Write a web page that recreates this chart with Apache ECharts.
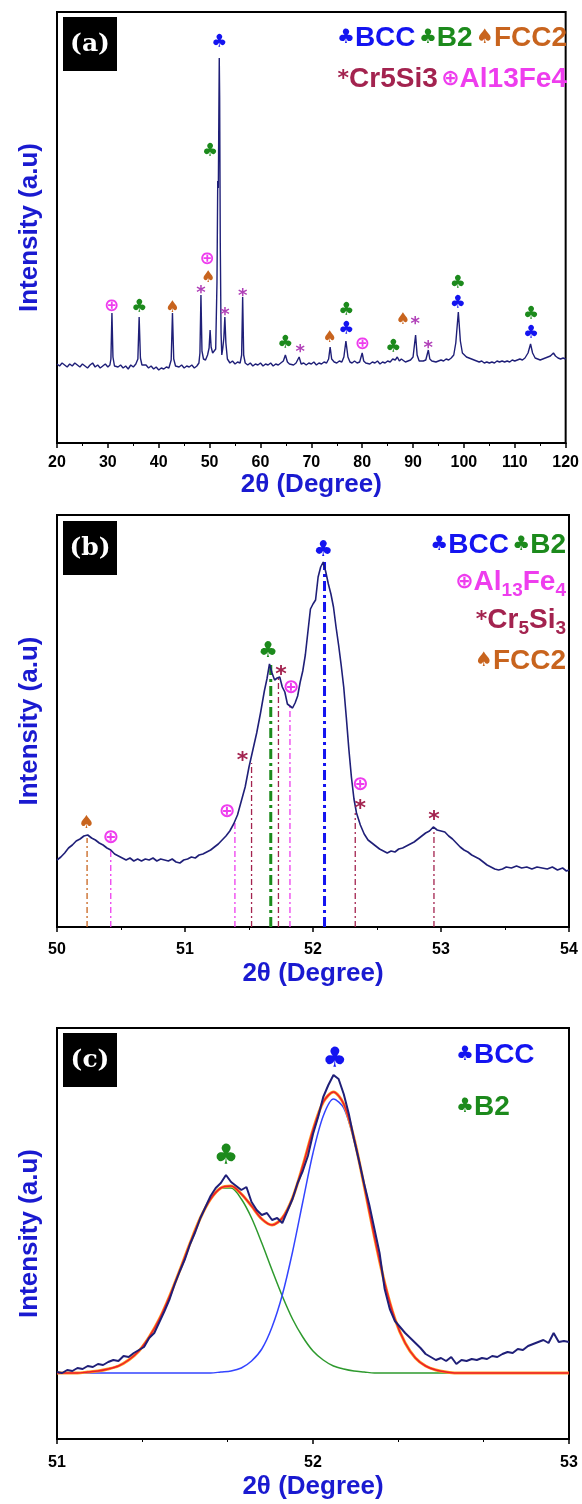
<!DOCTYPE html>
<html><head><meta charset="utf-8">
<script src="https://cdn.jsdelivr.net/npm/echarts@6/dist/echarts.min.js"></script>
<style>html,body{margin:0;padding:0;background:#fff}#c{width:582px;height:1504px}</style>
</head><body><div id="c"></div>
<script>
// ---------- Panel (a): full XRD scan, [2θ, intensity] ----------
const scanA = [[20,79],[20.5,77],[21,80],[21.5,78],[22,76],[22.5,79],[23,77],[23.5,80],[24,78],[24.5,76],[25,79],[25.5,77],[26,75],[26.5,78],[27,80],[27.5,76],[28,78],[28.5,75],[29,77],[29.5,79],[30,76],[30.4,78],
[30.6,84],[30.8,130],[31.0,86],[31.3,77],[31.5,79],[32,76],[32.5,78],[33,75],[33.5,77],[34,74],[34.5,78],[35,76],[35.5,79],[35.9,84],[36.15,126],[36.4,85],[36.7,78],[37,76],[37.5,78],[38,75],[38.5,77],[39,74],[39.5,76],[40,73],[40.5,75],[41,74],[41.5,76],[42,75],[42.45,83],[42.7,130],[42.95,84],[43.3,77],[43.5,79],[44,76],[44.5,78],[45,75],[45.5,77],[46,76],[46.5,78],[47,75],[47.5,77],[47.9,80],[48.1,90],[48.3,148],[48.5,92],[48.8,84],[49.2,83],[49.6,88],[49.9,95],[50.1,113],[50.3,96],[50.6,90],[50.9,88],[51.2,94],[51.45,160],[51.6,262],[51.72,255],[51.82,330],[51.9,385],[51.98,345],[52.1,200],[52.25,110],[52.4,88],[52.6,95],[52.8,105],[53.0,126],[53.2,100],[53.5,84],[54,80],[54.5,82],[55,79],[55.5,81],[56,80],[56.3,88],[56.5,146],[56.7,88],[57,80],[57.5,78],[58,80],[58.5,77],[59,79],[59.5,78],[60,80],[60.5,77],[61,79],[61.5,78],[62,80],[62.5,77],[63,79],[63.5,78],[64,80],[64.5,82],[64.9,88],[65.3,81],[65.7,79],[66,80],[66.5,78],[67,80],[67.6,86],[68,79],[68.5,80],[69,78],[69.5,80],[70,79],[70.5,81],[71,78],[71.5,80],[72,79],[72.5,81],[73,80],[73.4,84],[73.7,96],[74,84],[74.5,81],[75,80],[75.5,82],[76,81],[76.4,86],[76.8,102],[77.2,86],[77.6,81],[78,80],[78.5,82],[79,80],[79.5,81],[80,90],[80.3,82],[80.7,80],[81,82],[81.5,79],[82,81],[82.5,80],[83,82],[83.5,79],[84,81],[84.5,80],[85,82],[85.5,81],[86,84],[86.5,83],[86.9,86],[87.3,82],[87.7,84],[88,82],[88.5,81],[89,82],[89.5,83],[90,86],[90.5,108],[90.8,88],[91.2,82],[91.5,81],[92,82],[92.5,83],[93,93],[93.3,84],[93.7,82],[94,83],[94.5,81],[95,82],[95.5,83],[96,82],[96.5,84],[97,83],[97.5,85],[98,88],[98.4,100],[98.9,131],[99.3,102],[99.7,90],[100,88],[100.5,86],[101,85],[101.5,84],[102,83],[102.5,82],[103,81],[103.5,82],[104,80],[104.5,81],[105,80],[105.5,81],[106,80],[106.5,82],[107,81],[107.5,82],[108,81],[108.5,82],[109,81],[109.5,83],[110,82],[110.5,83],[111,84],[111.5,83],[112,85],[112.6,90],[113.1,99],[113.5,90],[114,85],[114.5,84],[115,83],[115.5,84],[116,85],[116.5,86],[117,87],[117.6,90],[118,87],[118.5,85],[119,84],[119.5,85],[120,84]];
const ticksA = [20,30,40,50,60,70,80,90,100,110,120];
const markA_BCC = [[51.9,401],[76.9,114],[98.8,140],[113.2,110]];
const markA_B2 = [[36.2,136],[50.1,292],[64.9,100],[76.9,133],[86.1,96],[98.8,160],[113.2,129]];
const markA_FCC2 = [[42.7,135],[49.7,165],[73.6,105],[88.0,123]];
const markA_Cr5Si3 = [[48.3,153],[53.0,131],[56.5,150],[67.8,94],[90.4,122],[93.0,98]];
const markA_Al13Fe4 = [[30.7,137],[49.5,184],[80.0,99]];

// ---------- Panel (b): zoom 50–54° ----------
const scanB = [[50.00,67],[50.03,70],[50.06,74],[50.09,79],[50.12,82],[50.15,86],[50.18,88],[50.21,91],[50.24,92],[50.27,89],[50.30,87],[50.33,84],[50.36,82],[50.39,79],[50.42,77],[50.45,73],[50.48,71],[50.51,69],[50.54,67],[50.57,69],[50.60,66],[50.63,68],[50.66,66],[50.69,68],[50.72,67],[50.75,69],[50.78,66],[50.81,68],[50.84,67],[50.87,66],[50.90,68],[50.93,65],[50.96,64],[50.99,67],[51.02,68],[51.05,70],[51.08,69],[51.11,72],[51.14,73],[51.17,75],[51.20,77],[51.23,80],[51.26,83],[51.29,87],[51.32,91],[51.35,96],[51.38,103],[51.41,112],[51.44,126],[51.47,140],[51.50,160],[51.53,177],[51.56,194],[51.59,214],[51.62,236],[51.64,248],[51.66,263],[51.68,254],[51.70,247],[51.72,249],[51.74,250],[51.76,240],[51.78,235],[51.80,223],[51.82,221],[51.84,219],[51.86,224],[51.88,231],[51.90,245],[51.92,256],[51.94,272],[51.96,295],[51.98,318],[52.00,323],[52.02,327],[52.04,350],[52.06,360],[52.08,365],[52.10,355],[52.12,343],[52.14,333],[52.16,320],[52.18,300],[52.20,282],[52.22,262],[52.24,240],[52.26,210],[52.28,178],[52.30,150],[52.32,128],[52.34,114],[52.37,102],[52.40,93],[52.43,87],[52.46,84],[52.49,81],[52.52,78],[52.55,76],[52.58,74],[52.61,76],[52.64,75],[52.67,78],[52.70,79],[52.73,81],[52.76,83],[52.79,85],[52.82,88],[52.85,91],[52.88,94],[52.91,96],[52.94,100],[52.97,97],[53.00,96],[53.03,95],[53.06,91],[53.09,88],[53.12,84],[53.15,80],[53.18,77],[53.21,75],[53.24,72],[53.27,70],[53.30,68],[53.33,65],[53.36,62],[53.39,60],[53.42,58],[53.45,57],[53.48,58],[53.51,60],[53.55,59],[53.59,61],[53.63,59],[53.67,60],[53.71,58],[53.75,60],[53.79,59],[53.83,58],[53.87,60],[53.91,57],[53.95,59],[53.98,56],[54.00,57]];
const ticksB = [50,51,52,53,54];
const markB_BCC = [[52.08,377]];
const markB_B2 = [[51.65,276]];
const markB_Al13Fe4 = [[50.42,89],[51.33,115],[51.83,239],[52.37,142]];
const markB_Cr5Si3 = [[51.45,170],[51.75,256],[52.37,122],[52.945,111]];
const markB_FCC2 = [[50.23,104]];
// drop lines: [2θ, top intensity]
const dropB_FCC2 = [[50.235,89]];
const dropB_Al13Fe4 = [[50.42,77],[51.39,104],[51.82,221]];
const dropB_Cr5Si3 = [[51.52,164],[51.73,252],[52.33,114],[52.945,99]];
const dropB_B2 = [[51.67,262]];
const dropB_BCC = [[52.09,365]];

// ---------- Panel (c): peak fit 51–53° ----------
const scanC = [[51.00,67],[51.02,66],[51.04,69],[51.06,68],[51.08,71],[51.10,70],[51.12,73],[51.14,72],[51.16,75],[51.18,74],[51.20,77],[51.22,79],[51.24,78],[51.26,83],[51.28,82],[51.30,86],[51.32,89],[51.34,92],[51.36,101],[51.38,106],[51.40,117],[51.42,128],[51.44,140],[51.46,155],[51.48,168],[51.50,180],[51.52,195],[51.54,207],[51.56,221],[51.58,232],[51.60,243],[51.62,251],[51.64,256],[51.66,264],[51.68,257],[51.70,253],[51.72,249],[51.74,252],[51.76,237],[51.78,229],[51.80,224],[51.82,226],[51.84,219],[51.86,221],[51.88,216],[51.90,228],[51.92,240],[51.94,256],[51.96,268],[51.98,283],[52.00,305],[52.02,322],[52.04,342],[52.06,354],[52.08,364],[52.10,360],[52.12,345],[52.14,325],[52.16,300],[52.18,278],[52.20,255],[52.22,234],[52.24,210],[52.26,186],[52.28,150],[52.30,130],[52.32,118],[52.34,112],[52.36,106],[52.38,101],[52.40,96],[52.42,91],[52.44,85],[52.46,82],[52.48,79],[52.50,81],[52.52,78],[52.54,82],[52.56,75],[52.58,79],[52.60,78],[52.62,80],[52.64,79],[52.66,81],[52.68,80],[52.70,83],[52.72,82],[52.74,85],[52.76,87],[52.78,86],[52.80,90],[52.82,89],[52.84,93],[52.86,95],[52.88,97],[52.90,99],[52.92,96],[52.94,106],[52.96,97],[52.98,98],[53.00,97]];
const fitX = [51.00,51.04,51.08,51.12,51.16,51.20,51.24,51.28,51.32,51.36,51.40,51.44,51.48,51.52,51.56,51.60,51.64,51.68,51.72,51.76,51.80,51.84,51.88,51.92,51.96,52.00,52.04,52.08,52.12,52.16,52.20,52.24,52.28,52.32,52.36,52.40,52.44,52.48,52.52,52.56,52.60,52.64,52.68,52.72,52.76,52.80,52.84,52.88,52.92,52.96,53.00];
const fitB2 = [66,66,66,67,68,70,73,79,88,102,120,143,169,196,221,240,251,251,240,221,196,169,143,120,102,88,79,73,70,68,67,66,66,66,66,66,66,66,66,66,66,66,66,66,66,66,66,66,66,66,66];
const fitBCC = [66,66,66,66,66,66,66,66,66,66,66,66,66,66,66,66,67,68,71,78,90,112,144,187,237,286,323,340,331,299,253,202,156,120,96,81,73,69,67,66,66,66,66,66,66,66,66,66,66,66,66];
const fitSum = [66,66,66,67,68,70,73,79,88,102,120,143,169,196,221,240,251,253,245,233,220,214,221,241,273,309,337,347,335,301,253,202,156,120,96,81,73,69,67,66,66,66,66,66,66,66,66,66,66,66,66];
const ticksC = [51,52,53];
const markC_BCC = [[52.085,379]];
const markC_B2 = [[51.66,282]];

// ---------- styling ----------
const COL = {BCC:'#1414f0', B2:'#1c8a1c', FCC2:'#c8641e', Cr:'#a3234f', CrA:'#b040b8', Al:'#ee3dee', navy:'#1f1f78', title:'#1a1ad0'};
const SYM = {club:'\u2663', spade:'\u2660', oplus:'\u2295', star:'*'};
const zip = (xs, ys) => xs.map((x, i) => [x, ys[i]]);

const chart = echarts.init(document.getElementById('c'), null, {renderer:'canvas'});

function glyphSeries(idx, data, glyph, color, size, dy) {
  return {type:'custom', xAxisIndex:idx, yAxisIndex:idx, data, z:10, silent:true,
    renderItem:(p, api) => {
      const c = api.coord([api.value(0), api.value(1)]);
      return {type:'text', x:c[0], y:c[1] + (dy||0), style:{text:glyph, fill:color, fontSize:size, fontFamily:'DejaVu Sans', fontWeight:'bold', align:'center', verticalAlign:'middle'}};
    }};
}
function dropSeries(idx, data, color, width, dash) {
  return {type:'custom', xAxisIndex:idx, yAxisIndex:idx, data, z:4, silent:true,
    renderItem:(p, api) => {
      const a = api.coord([api.value(0), 0]);
      const b = api.coord([api.value(0), api.value(1)]);
      return {type:'line', shape:{x1:a[0], y1:a[1], x2:b[0], y2:b[1]}, style:{stroke:color, lineWidth:width, lineDash:dash}};
    }};
}

const grids = [
  {left:57, right:13, top:12, height:431},
  {left:57, right:13, top:515, height:412},
  {left:57, right:13, top:1028, height:411}
].map(g => Object.assign(g, {show:true, borderColor:'#000', borderWidth:2, backgroundColor:'transparent'}));

function xAx(idx, min, max, interval, minorSplit, gap, margin) {
  return {gridIndex:idx, type:'value', min, max, interval,
    name:'2\u03b8 (Degree)', nameLocation:'middle', nameGap:gap,
    nameTextStyle:{color:COL.title, fontSize:26, fontWeight:'bold', fontFamily:'Liberation Sans'},
    axisLine:{show:true, onZero:false, lineStyle:{color:'#000', width:2}},
    axisTick:{show:true, length:5, lineStyle:{color:'#000', width:1.5}},
    minorTick:{show:true, splitNumber:minorSplit, length:3, lineStyle:{color:'#000', width:1}},
    splitLine:{show:false},
    axisLabel:{color:'#000', fontSize:16, fontWeight:'bold', fontFamily:'Liberation Sans', margin, showMinLabel:true, showMaxLabel:true}};
}
function yAx(idx, max) {
  return {gridIndex:idx, type:'value', min:0, max,
    name:'Intensity (a.u)', nameLocation:'middle', nameGap:14, nameRotate:90,
    nameTextStyle:{color:COL.title, fontSize:26, fontWeight:'bold', fontFamily:'Liberation Sans'},
    axisLine:{show:true, lineStyle:{color:'#000', width:2}},
    axisTick:{show:false}, axisLabel:{show:false}, splitLine:{show:false}};
}

function labelBox(txt, top) {
  return [{type:'rect', left:63, top, shape:{width:54, height:54}, style:{fill:'#000'}, z:20},
          {type:'text', x:90, y:top+27, z:21, style:{text:txt, fill:'#fff', fontSize:25, fontWeight:'bold', fontFamily:'DejaVu Serif', align:'center', verticalAlign:'middle'}}];
}
const base = (c) => ({fill:c, fontSize:28, fontWeight:'bold', fontFamily:'Liberation Sans', lineHeight:36, verticalAlign:'middle'});
const sym = (c, s) => ({fill:c, fontSize:s||20, fontWeight:'bold', fontFamily:'DejaVu Sans', lineHeight:36, verticalAlign:'middle'});
const sub = (c) => ({fill:c, fontSize:19, fontWeight:'bold', fontFamily:'Liberation Sans', verticalAlign:'bottom'});
const rich = {
  b:base(COL.BCC), bs:sym(COL.BCC), g:base(COL.B2), gs:sym(COL.B2), o:base(COL.FCC2), os:sym(COL.FCC2),
  m:base(COL.Cr), ms:sym(COL.Cr, 22), msub:sub(COL.Cr), p:base(COL.Al), ps:sym(COL.Al, 22), psub:sub(COL.Al)
};
function legendLine(text, x, y, align) {
  return {type:'text', x, y, z:15, style:{text, rich, align:align||'right', verticalAlign:'middle'}};
}

const graphic = [].concat(
  labelBox('(a)', 17), labelBox('(b)', 521), labelBox('(c)', 1033),
  [
    legendLine('{bs|\u2663}{b|BCC} {gs|\u2663}{g|B2} {os|\u2660}{o|FCC2}', 567, 38),
    legendLine('{ms|*}{m|Cr5Si3} {ps|\u2295}{p|Al13Fe4}', 567, 79),
    legendLine('{bs|\u2663}{b|BCC} {gs|\u2663}{g|B2}', 566, 545),
    legendLine('{ps|\u2295}{p|Al}{psub|13}{p|Fe}{psub|4}', 566, 582),
    legendLine('{ms|*}{m|Cr}{msub|5}{m|Si}{msub|3}', 566, 620),
    legendLine('{os|\u2660}{o|FCC2}', 566, 661),
    legendLine('{bs|\u2663}{b|BCC}', 456, 1055, 'left'),
    legendLine('{gs|\u2663}{g|B2}', 456, 1107, 'left')
  ]
);

const series = [
  // (a)
  {type:'line', xAxisIndex:0, yAxisIndex:0, data:scanA, showSymbol:false, lineStyle:{color:COL.navy, width:1.4}, z:3},
  glyphSeries(0, markA_BCC, SYM.club, COL.BCC, 18),
  glyphSeries(0, markA_B2, SYM.club, COL.B2, 18),
  glyphSeries(0, markA_FCC2, SYM.spade, COL.FCC2, 16),
  glyphSeries(0, markA_Cr5Si3, SYM.star, COL.CrA, 18, 3),
  glyphSeries(0, markA_Al13Fe4, SYM.oplus, COL.Al, 18),
  // (b)
  dropSeries(1, dropB_FCC2, COL.FCC2, 1.3, [6,3,2,3]),
  dropSeries(1, dropB_Al13Fe4, COL.Al, 1.3, [6,3,2,3]),
  dropSeries(1, dropB_Cr5Si3, COL.Cr, 1.3, [6,3,2,3]),
  dropSeries(1, dropB_B2, COL.B2, 3, [10,4,3,4]),
  dropSeries(1, dropB_BCC, COL.BCC, 3, [10,4,3,4]),
  {type:'line', xAxisIndex:1, yAxisIndex:1, data:scanB, showSymbol:false, lineStyle:{color:COL.navy, width:1.6}, z:5},
  glyphSeries(1, markB_BCC, SYM.club, COL.BCC, 22),
  glyphSeries(1, markB_B2, SYM.club, COL.B2, 22),
  glyphSeries(1, markB_FCC2, SYM.spade, COL.FCC2, 18),
  glyphSeries(1, markB_Cr5Si3, SYM.star, COL.Cr, 22, 4),
  glyphSeries(1, markB_Al13Fe4, SYM.oplus, COL.Al, 20),
  // (c)
  {type:'line', xAxisIndex:2, yAxisIndex:2, data:zip(fitX, fitB2), showSymbol:false, smooth:0.3, lineStyle:{color:'#2e9a2e', width:1.5}, z:3},
  {type:'line', xAxisIndex:2, yAxisIndex:2, data:zip(fitX, fitBCC), showSymbol:false, smooth:0.3, lineStyle:{color:'#3344ff', width:1.5}, z:3},
  {type:'line', xAxisIndex:2, yAxisIndex:2, data:zip(fitX, fitSum), showSymbol:false, smooth:0.3, lineStyle:{color:'#ff9a20', width:3}, z:4},
  {type:'line', xAxisIndex:2, yAxisIndex:2, data:zip(fitX, fitSum), showSymbol:false, smooth:0.3, lineStyle:{color:'#ee1c2c', width:1.5}, z:5},
  {type:'line', xAxisIndex:2, yAxisIndex:2, data:scanC, showSymbol:false, lineStyle:{color:COL.navy, width:2}, z:6},
  glyphSeries(2, markC_BCC, SYM.club, COL.BCC, 28),
  glyphSeries(2, markC_B2, SYM.club, COL.B2, 28)
];

chart.setOption({
  animation:false,
  backgroundColor:'#fff',
  grid:grids,
  xAxis:[xAx(0, ticksA[0], ticksA[ticksA.length-1], 10, 2, 28, 12), xAx(1, ticksB[0], ticksB[ticksB.length-1], 1, 2, 34, 15), xAx(2, ticksC[0], ticksC[ticksC.length-1], 1, 3, 35, 16)],
  yAxis:[yAx(0, 431), yAx(1, 412), yAx(2, 411)],
  graphic,
  series
});
</script></body></html>
